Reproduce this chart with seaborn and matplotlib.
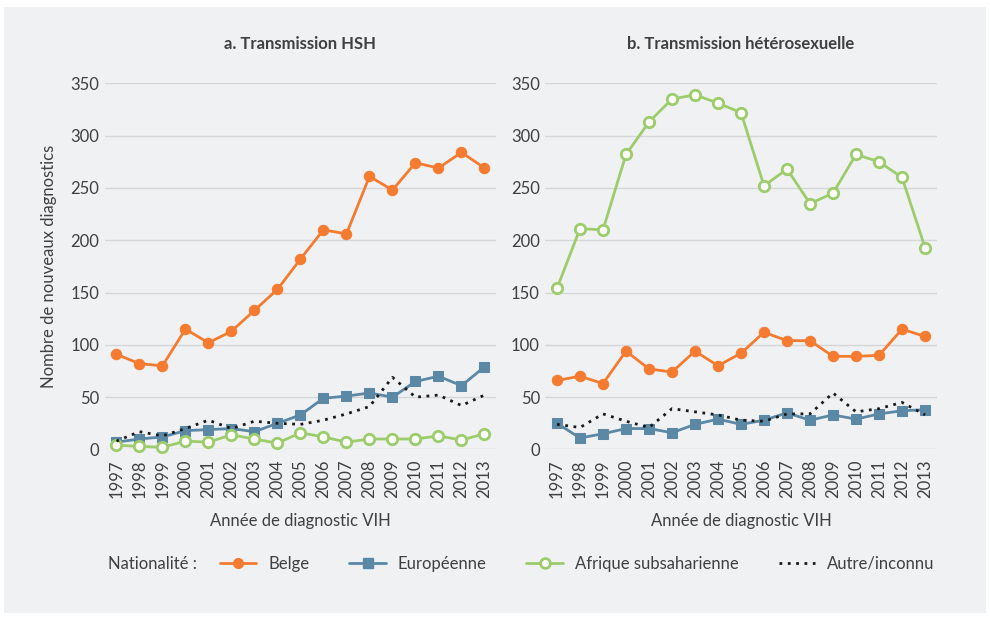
import numpy as np
import pandas as pd
import matplotlib.pyplot as plt
from matplotlib.patches import Rectangle
from matplotlib.lines import Line2D
import seaborn as sns

years = list(range(1997, 2014))

# a. Transmission HSH
hsh_belge = [91, 82, 80, 115, 102, 113, 133, 153, 182, 210, 206, 261, 248, 274, 269, 284, 269]
hsh_europe = [7, 10, 12, 18, 19, 20, 17, 25, 33, 49, 51, 54, 50, 65, 70, 61, 79]
hsh_afrique = [4, 3, 2, 8, 7, 14, 10, 6, 16, 12, 7, 10, 10, 10, 13, 9, 15]
hsh_autre = [8, 17, 13, 20, 28, 20, 27, 25, 24, 28, 34, 41, 69, 50, 52, 42, 52]

# b. Transmission hétérosexuelle
het_belge = [66, 70, 63, 94, 77, 74, 94, 80, 92, 112, 104, 104, 89, 89, 90, 115, 108]
het_europe = [25, 11, 15, 20, 20, 16, 24, 29, 24, 28, 35, 28, 33, 29, 34, 37, 38]
het_afrique = [154, 211, 210, 282, 313, 335, 339, 331, 322, 252, 268, 235, 245, 282, 275, 260, 193]
het_autre = [24, 21, 34, 27, 21, 39, 36, 33, 28, 27, 34, 34, 54, 36, 39, 45, 33]

titles = ["a. Transmission HSH", "b. Transmission hétérosexuelle"]
series_names = ["Belge", "Européenne", "Afrique subsaharienne", "Autre/inconnu"]

sns.set_theme(style="white")
plt.rcParams['font.family'] = ['Lato', 'DejaVu Sans']

txt = "#404040"
bg = "#f0f1f3"
colors = {"Belge": "#f47b2f", "Européenne": "#5a88a5", "Afrique subsaharienne": "#9ccc6b", "Autre/inconnu": "#1a1a1a"}

fig = plt.figure(figsize=(9.9, 6.18), dpi=100)
fig.patch.set_facecolor("white")
fig.patches.append(Rectangle((4 / 990, 5 / 618), 982 / 990, 606 / 618, transform=fig.transFigure,
                             facecolor=bg, edgecolor="none", zorder=-10))

ax1 = fig.add_axes([0.106, 0.2727, 0.395, 0.5925])
ax2 = fig.add_axes([0.551, 0.2727, 0.395, 0.5925])

panels = [
    (ax1, [hsh_belge, hsh_europe, hsh_afrique, hsh_autre]),
    (ax2, [het_belge, het_europe, het_afrique, het_autre]),
]

for i, (ax, data) in enumerate(panels):
    ax.set_facecolor("none")
    for name, vals in zip(series_names, data):
        c = colors[name]
        if name == "Belge":
            kw = dict(marker="o", markersize=7.5, markerfacecolor=c, markeredgecolor=c, linewidth=2)
        elif name == "Européenne":
            kw = dict(marker="s", markersize=7.5, markerfacecolor=c, markeredgecolor=c, linewidth=2)
        elif name == "Afrique subsaharienne":
            kw = dict(marker="o", markersize=7.5, markerfacecolor="white", markeredgecolor=c,
                      markeredgewidth=2, linewidth=2)
        else:
            kw = dict(linestyle=(0, (1, 2)), linewidth=2)
        sns.lineplot(x=years, y=vals, ax=ax, color=c, clip_on=False, **kw)
    ax.set_xlim(1996.5, 2013.5)
    ax.set_ylim(0, 350)
    ax.set_yticks(range(0, 351, 50))
    ax.set_xticks(years)
    ax.set_xticklabels([str(y) for y in years], rotation=90)
    ax.tick_params(axis="both", length=0, labelsize=12, labelcolor=txt, pad=4)
    ax.tick_params(axis="x", pad=7)
    ax.grid(axis="y", color="#d6d7d9", linewidth=1)
    ax.set_axisbelow(True)
    for s in ax.spines.values():
        s.set_visible(False)
    ax.set_title(titles[i], fontsize=12, fontweight="bold", color=txt, pad=25)
    ax.set_xlabel("Année de diagnostic VIH", fontsize=12, color=txt, labelpad=11)
    ax.set_ylabel("")

ax1.set_ylabel("Nombre de nouveaux diagnostics", fontsize=12, color=txt, labelpad=10)

fig.text(0.109, 0.088, "Nationalité :", fontsize=12, color=txt, va="center", ha="left")
handles = [
    Line2D([], [], color=colors["Belge"], marker="o", markersize=7, linewidth=2),
    Line2D([], [], color=colors["Européenne"], marker="s", markersize=7, linewidth=2),
    Line2D([], [], color=colors["Afrique subsaharienne"], marker="o", markersize=7,
           markerfacecolor="white", markeredgewidth=2, linewidth=2),
    Line2D([], [], color=colors["Autre/inconnu"], linestyle=(0, (1, 2)), linewidth=2),
]
leg = fig.legend(handles, series_names, loc="center left", bbox_to_anchor=(0.222, 0.088), ncol=4,
                 frameon=False, fontsize=12, handlelength=2.2, columnspacing=2.4, handletextpad=0.7,
                 borderaxespad=0, borderpad=0)
for t in leg.get_texts():
    t.set_color(txt)

fig.savefig("out.png", dpi=100)
